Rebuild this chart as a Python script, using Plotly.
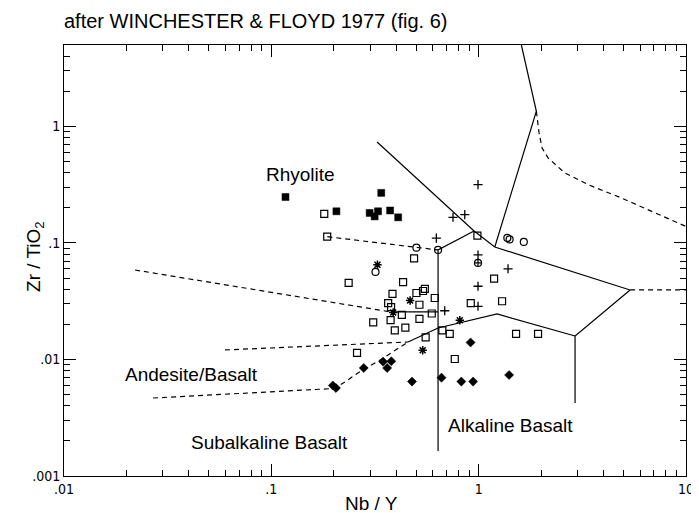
import plotly.graph_objects as go
import math

# ---------------- data (Nb/Y, Zr/TiO2) ----------------
filled_sq_x = [0.117, 0.206, 0.339, 0.298, 0.327, 0.315, 0.374, 0.409]
filled_sq_y = [0.248, 0.187, 0.269, 0.181, 0.187, 0.169, 0.190, 0.166]

open_sq_x = [0.180, 0.186, 0.236, 0.488, 0.432, 0.550, 0.539, 0.501, 0.614, 0.384,
             0.366, 0.378, 0.518, 0.376, 0.426, 0.518, 0.594, 0.310, 0.394, 0.443,
             0.668, 0.725, 0.555, 0.259, 0.767, 0.916, 1.297, 0.986, 1.187, 1.515, 1.934]
open_sq_y = [0.1775, 0.1132, 0.0454, 0.0736, 0.0461, 0.0403, 0.0387, 0.0372, 0.0337, 0.0365,
             0.0305, 0.0281, 0.0295, 0.0218, 0.0241, 0.0223, 0.0248, 0.0208, 0.0178, 0.0188,
             0.0178, 0.0166, 0.0155, 0.0114, 0.0101, 0.0304, 0.0316, 0.1155, 0.0494, 0.0166, 0.0166]

open_circ_x = [0.501, 0.637, 0.318, 1.375, 1.410, 1.651]
open_circ_y = [0.0911, 0.0871, 0.0564, 0.1104, 0.1072, 0.102]

circ_cross_x = [0.993]
circ_cross_y = [0.0674]

plus_x = [0.993, 0.752, 0.857, 0.625, 0.993, 1.386, 0.993, 0.993, 0.686]
plus_y = [0.317, 0.166, 0.175, 0.110, 0.0789, 0.0600, 0.0425, 0.0286, 0.0262]

star_x = [0.325, 0.467, 0.387, 0.811, 0.537]
star_y = [0.0651, 0.0321, 0.0253, 0.0217, 0.0120]

diam_x = [0.914, 0.279, 0.346, 0.379, 0.362, 0.198, 0.205, 0.477, 0.662, 0.825, 0.940, 1.402]
diam_y = [0.0140, 0.00845, 0.00958, 0.00965, 0.00845, 0.00598, 0.00569, 0.00646, 0.00698,
          0.00646, 0.00646, 0.00736]

# ---------------- field boundaries ----------------
solid_lines = [
    ([1.607, 1.898, 1.196], [5.0, 1.35, 0.0924]),
    ([0.3236, 0.95, 1.196, 5.375, 2.917, 2.917], [0.736, 0.1268, 0.0924, 0.0395, 0.0159, 0.00423]),
    ([0.95, 0.637, 0.637], [0.1268, 0.0871, 0.00164]),
    ([0.378, 0.637], [0.02557, 0.02557]),
    ([0.4564, 0.637, 1.227, 2.917], [0.01413, 0.01864, 0.02459, 0.0159]),
]
dashed_lines = [
    ([1.898, 1.956, 2.022, 2.161, 2.603, 3.372, 4.88, 10.0],
     [1.35, 0.88, 0.654, 0.537, 0.399, 0.3166, 0.2433, 0.1385]),
    ([0.1863, 0.501, 0.637], [0.1132, 0.0911, 0.0871]),
    ([0.022, 0.378], [0.0586, 0.02557]),
    ([0.0598, 0.4564], [0.01207, 0.01413]),
    ([0.0269, 0.2022, 0.2243, 0.2708, 0.3382, 0.4564],
     [0.00467, 0.00564, 0.00635, 0.00797, 0.0100, 0.01413]),
    ([5.375, 10.0], [0.0395, 0.0395]),
]

field_labels = ["Rhyolite", "Andesite/Basalt", "Subalkaline Basalt", "Alkaline Basalt"]
field_label_x = [0.1375, 0.0414, 0.0975, 1.417]
field_label_y = [0.3835, 0.00736, 0.00192, 0.00269]

x_tickvals = [0.01, 0.1, 1, 10]
x_ticktext = [".01", ".1", "1", "10"]
y_tickvals = [0.001, 0.01, 0.1, 1]
y_ticktext = [".001", ".01", ".1", "1"]

# ---------------- figure ----------------
FONT = "Liberation Sans, Arial, Helvetica, sans-serif"
NARROW = "Liberation Sans Narrow, DejaVu Sans Condensed, Arial Narrow, sans-serif"

fig = go.Figure()

for xs, ys in solid_lines:
    fig.add_trace(go.Scatter(x=xs, y=ys, mode="lines",
                             line=dict(color="black", width=1.2), hoverinfo="skip"))
for xs, ys in dashed_lines:
    fig.add_trace(go.Scatter(x=xs, y=ys, mode="lines",
                             line=dict(color="black", width=1.2, dash="5px,4px"), hoverinfo="skip"))

def add_markers(xs, ys, symbol, size, lw=1.2):
    fig.add_trace(go.Scatter(x=xs, y=ys, mode="markers",
                             marker=dict(symbol=symbol, size=size, color="black",
                                         line=dict(color="black", width=lw))))

add_markers(open_sq_x, open_sq_y, "square-open", 7)
add_markers(filled_sq_x, filled_sq_y, "square", 7, 0.5)
add_markers(open_circ_x, open_circ_y, "circle-open", 7)
add_markers(circ_cross_x, circ_cross_y, "circle-cross-open", 7)
add_markers(plus_x, plus_y, "cross-thin-open", 6.5, 1.3)
add_markers(star_x, star_y, "asterisk-open", 7, 1.5)
add_markers(diam_x, diam_y, "diamond", 7, 0.5)

annotations = []
for t, xv, yv in zip(field_labels, field_label_x, field_label_y):
    annotations.append(dict(x=math.log10(xv), y=math.log10(yv), xref="x", yref="y",
                            text=t, showarrow=False, xanchor="center", yanchor="middle",
                            font=dict(family=FONT, size=19, color="black")))
annotations.append(dict(x=-0.047, y=0.51, xref="paper", yref="paper",
                        text="Zr / TiO<sub>2</sub>", textangle=-90, showarrow=False,
                        xanchor="center", yanchor="middle",
                        font=dict(family=FONT, size=19, color="black")))
annotations.append(dict(x=0.495, y=-0.064, xref="paper", yref="paper",
                        text="Nb / Y", showarrow=False, xanchor="center", yanchor="middle",
                        font=dict(family=FONT, size=19, color="black")))

minor_vals = [k * 10 ** n for n in range(-3, 2) for k in range(2, 10)]

axis_common = dict(
    type="log", showgrid=False, zeroline=False, showline=True, linecolor="black",
    linewidth=1, mirror="ticks", ticks="inside", ticklen=12, tickcolor="black",
    tickwidth=1, tickmode="array", automargin=False,
    tickfont=dict(family=NARROW, size=14, color="black"),
    minor=dict(ticks="inside", ticklen=6, tickcolor="black", tickwidth=1,
               tickmode="array", tickvals=minor_vals, showgrid=False),
)

fig.update_layout(
    width=699, height=513,
    margin=dict(l=56, r=21, t=37, b=45),
    paper_bgcolor="white", plot_bgcolor="white",
    showlegend=False,
    title=dict(text="after WINCHESTER &amp; FLOYD 1977 (fig. 6)", x=56 / 699, xanchor="left",
               y=1 - 13 / 513, yanchor="middle", xref="container", yref="container",
               font=dict(family=FONT, size=20, color="black")),
    xaxis=dict(range=[-2, 1], tickvals=x_tickvals, ticktext=x_ticktext, **axis_common),
    yaxis=dict(range=[-3, math.log10(5)], tickvals=y_tickvals, ticktext=y_ticktext, **axis_common),
    annotations=annotations,
)

fig.write_html("out.html")
